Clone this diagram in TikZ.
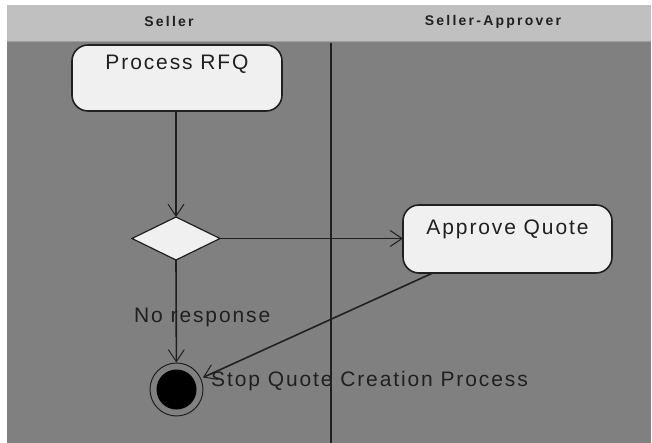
\documentclass[tikz,border=0pt]{standalone}
\usepackage{fontspec}
\setmainfont{Liberation Sans}
\newfontfamily\lanefont{Liberation Sans}[LetterSpace=16]
\newfontfamily\statefont{Liberation Sans}[LetterSpace=9]
\usetikzlibrary{arrows.meta,shapes.geometric}

\definecolor{headgray}{HTML}{C0C0C0}
\definecolor{lanegray}{HTML}{808080}
\definecolor{boxfill}{HTML}{F0F0F0}
\definecolor{ink}{HTML}{202020}

\tikzset{
  lanehead/.style={inner sep=0pt, text=ink, font=\lanefont\bfseries\fontsize{14}{16}\selectfont},
  activity/.style={draw=ink, line width=1.6pt, fill=boxfill, rounded corners=16pt,
    inner sep=0pt, outer sep=0pt, text=ink, font=\statefont\fontsize{21}{25}\selectfont},
  decision/.style={diamond, draw=ink, line width=1.2pt, fill=boxfill, inner sep=0pt, outer sep=0pt},
  endstate/.style={circle, draw=ink, line width=1pt, fill=lanegray, inner sep=0pt,
    minimum size=53pt, outer sep=0.5pt,
    path picture={\fill[black] (path picture bounding box.center) circle (20pt);}},
  caption/.style={inner sep=0pt, text=ink, font=\statefont\fontsize{21}{25}\selectfont},
  flow/.style={draw=ink, line width=1.6pt,
    -{Straight Barb[length=12pt, width=16pt, line width=1pt]}},
}

\begin{document}
\begin{tikzpicture}[x=1pt, y=-1pt]
  \useasboundingbox (0,0) rectangle (652,443);
  \fill[white] (0,0) rectangle (652,443);

  % swimlane header and bodies
  \fill[headgray] (7,5) rectangle (651,42);
  \fill[lanegray] (7,42) rectangle (651,443);
  \draw[color=gray!75, line width=1pt] (7,42) -- (651,42);
  \draw[ink, line width=1.6pt] (331,43) -- (331,443);

  \node[lanehead] (laneA) at (169,22) {Seller};
  \node[lanehead] (laneB) at (493,22) {Seller-Approver};

  % states
  \node[activity, minimum width=210pt, text height=24.5pt, text depth=41.5pt]
    (prfq) at (177,78) {Process RFQ};
  \node[decision, minimum width=88pt, minimum height=43pt] (dec) at (176,238.5) {};
  \node[activity, minimum width=209pt, text height=29.5pt, text depth=38.5pt]
    (aq) at (507.5,239) {Approve Quote};
  \node[endstate] (final) at (176.5,389.5) {};

  % transitions
  \draw[flow] (prfq.south -| dec.north) -- (dec.north);
  \draw[flow] (dec.east) -- (aq.west |- dec.east);
  \draw[flow] (dec.south) -- (final);
  \draw[flow, shorten >=2pt] (aq) -- (final);

  % texts
  \node[caption, anchor=base west] (noresp) at (134,322.5) {No response};
  \node[caption, anchor=base west] (stoptxt) at (211,386.5) {Stop Quote Creation Process};
\end{tikzpicture}
\end{document}
